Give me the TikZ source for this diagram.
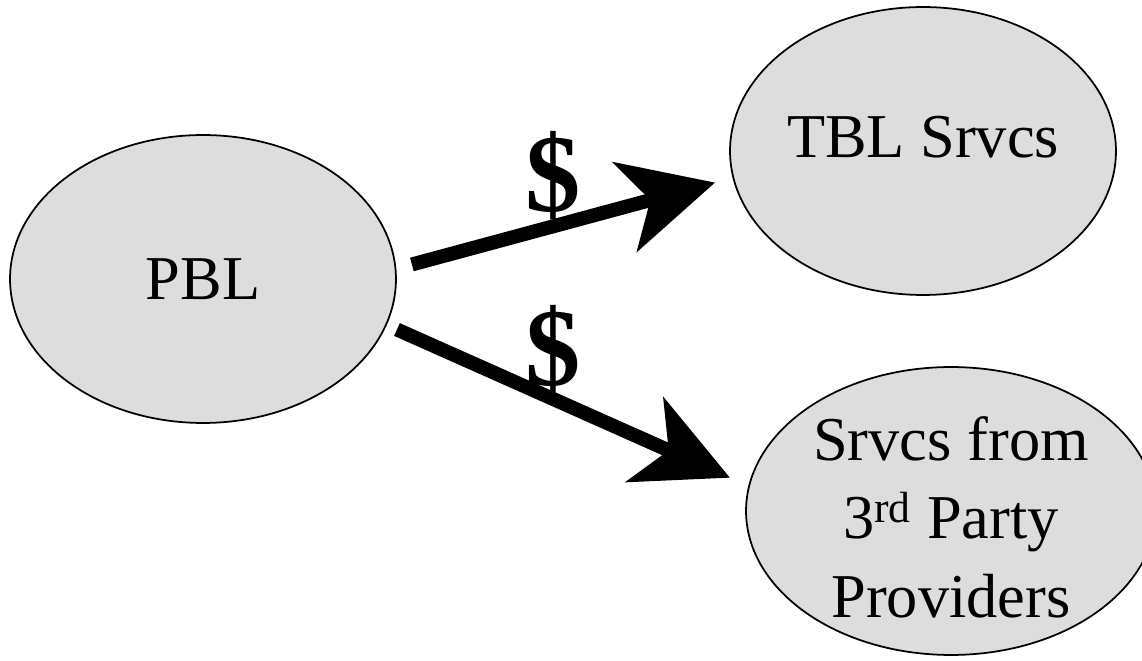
\documentclass[tikz,border=0pt]{standalone}
\usepackage{fontspec}
\setmainfont{Liberation Serif}
\usetikzlibrary{shapes,arrows.meta,positioning}
\definecolor{ovalgray}{HTML}{DDDDDD}

\begin{document}
\begin{tikzpicture}[x=0.02cm,y=-0.02cm,
                        bigtext/.style={font=\fontsize{35.5}{44.7}\selectfont},
                        oval/.style={ellipse,draw,line width=1pt,fill=ovalgray,bigtext,
                            minimum width=7.72cm,minimum height=5.76cm,inner sep=0pt,outer sep=0pt},
                        pay/.style={line width=0.28cm,
                            -{Stealth[length=1.86cm,width=1.84cm,inset=0.52cm]}},
                        cash/.style={font=\fontsize{63}{63}\selectfont\bfseries}]
                        \useasboundingbox (0,0) rectangle (1142,661);
                        \clip (0,0) rectangle (1142,661);
                        \node[oval] (pbl) at (203,279) {PBL};
                        \node[oval,text depth=0.56cm] (tbl) at (923,151) {TBL Srvcs};
                        \node[oval,minimum width=8.2cm,
                            label={[bigtext,align=center,yshift=-0.12cm]center:{Srvcs from\\3\textsuperscript{rd} Party\\Providers}}]
                            (third) at (951,511) {};
                        \draw[pay,shorten <=0.34cm,shorten >=0.38cm] (pbl.3) -- (tbl.188);
                        \draw[pay,shorten <=0.24cm,shorten >=0.42cm] (pbl.346) -- (third.173);
                        \node[cash] (cash1) at (553,176) {\$};
                        \node[cash] (cash2) at (553,350) {\$};
                    \end{tikzpicture}
\end{document}
